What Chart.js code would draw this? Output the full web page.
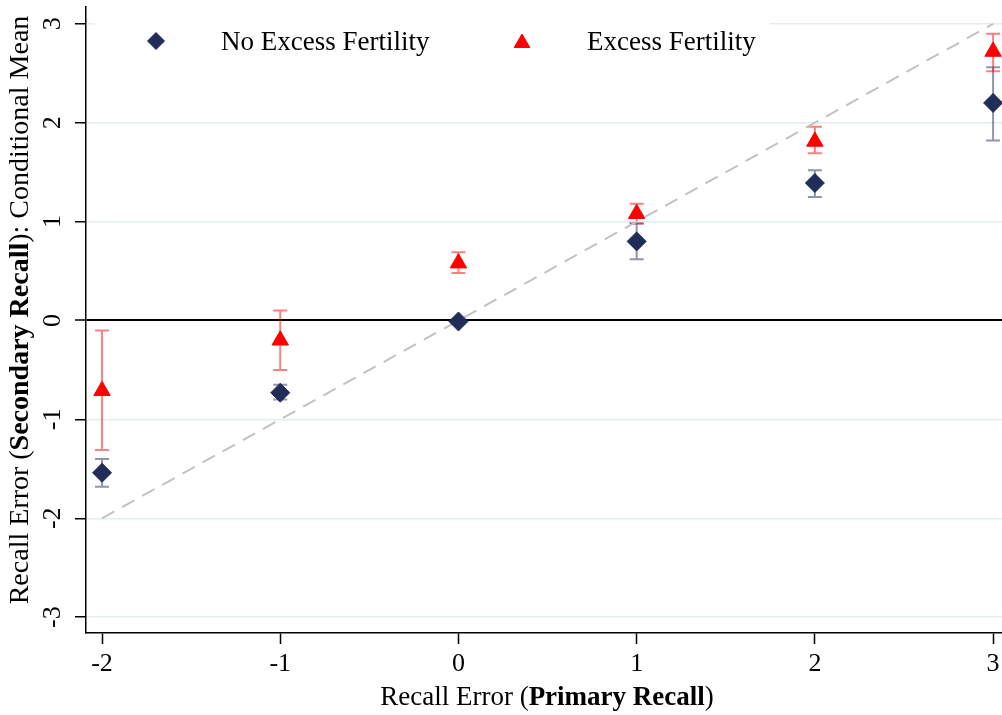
<!DOCTYPE html>
<html>
<head>
<meta charset="utf-8">
<script src="https://cdn.jsdelivr.net/npm/chart.js@4/dist/chart.umd.min.js"></script>
<style>
  body { margin: 0; background: #fff; }
  #wrap { width: 1002px; height: 715px; }
</style>
</head>
<body>
<div id="wrap"><canvas id="myChart" width="1002" height="715"></canvas></div>
<script>
// recall error categories (primary recall)
const xCats = [-2, -1, 0, 1, 2, 3];
const yTicks = [-3, -2, -1, 0, 1, 2, 3];

// conditional means with confidence bounds
const noExcess   = [-1.54, -0.73, -0.01, 0.80, 1.39, 2.20];
const noExcessLo = [-1.68, -0.80, -0.03, 0.62, 1.25, 1.82];
const noExcessHi = [-1.40, -0.65, 0.01, 0.98, 1.52, 2.56];

const excess   = [-0.71, -0.20, 0.58, 1.08, 1.81, 2.72];
const excessLo = [-1.31, -0.50, 0.48, 0.98, 1.69, 2.52];
const excessHi = [-0.10, 0.10, 0.69, 1.18, 1.96, 2.90];

const navy = '#1f2d58';
const red = '#ff0000';
const serif = '"Liberation Serif", "Times New Roman", serif';

const toPoints = (ys) => xCats.map((x, i) => ({ x: x, y: ys[i] }));

// error bars, legend box, tick labels and titles
const extras = {
  id: 'extras',
  beforeDatasetsDraw(chart) {
    const c = chart.ctx;
    const xs = chart.scales.x, ys = chart.scales.y;
    // white legend background over the top gridline
    c.save();
    c.fillStyle = '#fff';
    c.fillRect(95, 8, 675, 62);
    c.restore();

    const bars = [
      [noExcessLo, noExcessHi, 'rgba(31,45,88,0.5)'],
      [excessLo, excessHi, 'rgba(255,0,0,0.5)']
    ];
    bars.forEach(([lo, hi, col]) => {
      c.save();
      c.strokeStyle = col;
      c.lineWidth = 2;
      xCats.forEach((x, i) => {
        const px = xs.getPixelForValue(x);
        const y1 = ys.getPixelForValue(lo[i]);
        const y2 = ys.getPixelForValue(hi[i]);
        c.beginPath();
        c.moveTo(px, y1); c.lineTo(px, y2);
        c.moveTo(px - 7, y1); c.lineTo(px + 7, y1);
        c.moveTo(px - 7, y2); c.lineTo(px + 7, y2);
        c.stroke();
      });
      c.restore();
    });
  },
  afterDraw(chart) {
    const c = chart.ctx;
    const ys = chart.scales.y;
    c.save();
    c.fillStyle = '#000';

    // y tick labels, rotated
    c.font = '26px ' + serif;
    c.textAlign = 'center';
    c.textBaseline = 'middle';
    ys.ticks.forEach(t => {
      const py = ys.getPixelForValue(t.value);
      c.save();
      c.translate(53, py);
      c.rotate(-Math.PI / 2);
      c.fillText(String(t.value), 0, 0);
      c.restore();
    });

    // titles with bold parts
    const drawParts = (parts, size, cx, cy, rot) => {
      c.save();
      c.translate(cx, cy);
      c.rotate(rot);
      c.textAlign = 'left';
      c.textBaseline = 'alphabetic';
      let total = 0;
      parts.forEach(p => { c.font = (p[1] ? 'bold ' : '') + size + 'px ' + serif; total += c.measureText(p[0]).width; });
      let x = -total / 2;
      parts.forEach(p => {
        c.font = (p[1] ? 'bold ' : '') + size + 'px ' + serif;
        c.fillText(p[0], x, 0);
        x += c.measureText(p[0]).width;
      });
      c.restore();
    };
    drawParts([['Recall Error (', false], ['Primary Recall', true], [')', false]], 27, 547, 705, 0);
    drawParts([['Recall Error (', false], ['Secondary Recall', true], ['): Conditional Mean', false]], 28, 28, 310, -Math.PI / 2);

    // legend
    const h = Chart.helpers;
    c.fillStyle = navy; c.strokeStyle = navy; c.lineWidth = 1;
    h.drawPoint(c, { pointStyle: 'rectRot', radius: 8.5, borderWidth: 1 }, 156, 41);
    c.fillStyle = red; c.strokeStyle = red;
    h.drawPoint(c, { pointStyle: 'triangle', radius: 9, borderWidth: 1 }, 522, 43);
    c.fillStyle = '#000';
    c.font = '27px ' + serif;
    c.textAlign = 'left';
    c.textBaseline = 'alphabetic';
    c.fillText('No Excess Fertility', 221, 50);
    c.fillText('Excess Fertility', 587, 50);
    c.restore();
  }
};

var ctx = document.getElementById('myChart').getContext('2d');
var chart = new Chart(ctx, {
  type: 'scatter',
  data: {
    datasets: [{
      label: 'No Excess Fertility',
      data: toPoints(noExcess),
      pointStyle: 'rectRot',
      pointRadius: 9.5,
      backgroundColor: navy,
      borderColor: navy,
      borderWidth: 1,
      clip: false,
      order: 1
    }, {
      label: 'Excess Fertility',
      data: toPoints(excess),
      pointStyle: 'triangle',
      pointRadius: 9.5,
      backgroundColor: red,
      borderColor: red,
      borderWidth: 1,
      clip: false,
      order: 2
    }, {
      label: '45 degree',
      type: 'line',
      data: [{ x: -2, y: -2 }, { x: 3, y: 3 }],
      borderColor: '#c2c2c2',
      borderWidth: 2,
      borderDash: [14, 9],
      pointRadius: 0,
      order: 3
    }]
  },
  options: {
    responsive: false,
    animation: false,
    layout: { autoPadding: false, padding: { top: 7, right: 0, left: 0, bottom: 0 } },
    plugins: { legend: { display: false }, tooltip: { enabled: false } },
    scales: {
      x: {
        type: 'linear',
        min: -2.09,
        max: 3.05,
        afterFit(scale) { scale.height = 82; scale.paddingLeft = 0; scale.paddingRight = 0; },
        afterBuildTicks(scale) { scale.ticks = xCats.map(v => ({ value: v })); },
        grid: { drawOnChartArea: false, drawTicks: true, tickLength: 11, tickColor: '#000', tickWidth: 1.5 },
        border: { display: true, color: '#000', width: 1.5 },
        ticks: { color: '#000', font: { family: serif, size: 26 }, padding: 5, maxRotation: 0 }
      },
      y: {
        type: 'linear',
        min: -3.16,
        max: 3.17,
        afterFit(scale) { scale.width = 86; scale.paddingTop = 0; scale.paddingBottom = 0; },
        afterBuildTicks(scale) { scale.ticks = yTicks.map(v => ({ value: v })); },
        grid: {
          color: (c) => c.tick && c.tick.value === 0 ? '#000' : '#e4edf0',
          lineWidth: (c) => c.tick && c.tick.value === 0 ? 2 : 1.5,
          tickColor: '#000',
          tickLength: 11,
          tickWidth: 1.5
        },
        border: { display: true, color: '#000', width: 1.5 },
        ticks: { display: false }
      }
    }
  },
  plugins: [extras]
});
</script>
</body>
</html>
